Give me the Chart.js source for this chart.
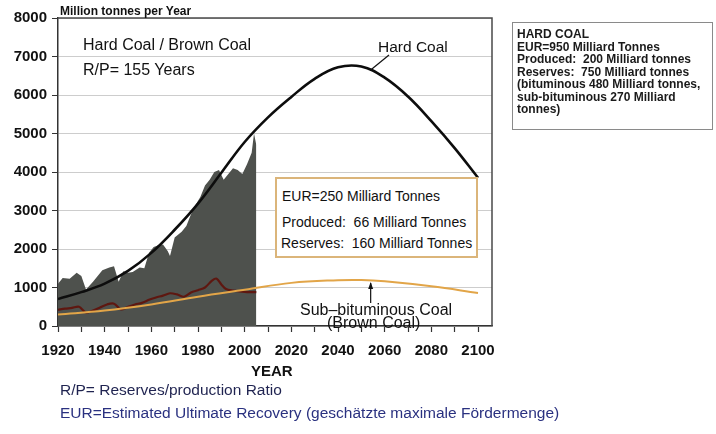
<!DOCTYPE html>
<html>
<head>
<meta charset="utf-8">
<script src="https://cdn.jsdelivr.net/npm/chart.js@4.4.1/dist/chart.umd.min.js"></script>
<style>
  body { margin: 0; background: #fff; }
  #wrap { position: relative; width: 716px; height: 434px; overflow: hidden; font-family: "Liberation Sans", Arial, sans-serif; color: #111; }
  #coal { position: absolute; left: 0; top: 0; }
  .t { position: absolute; white-space: nowrap; line-height: 1; }
  .box { position: absolute; box-sizing: border-box; }
</style>
</head>
<body>
<div id="wrap">
  <canvas id="coal" width="716" height="434"></canvas>

  <div class="t" style="left:60px;top:5px;font-size:12px;font-weight:bold;">Million tonnes per Year</div>
  <div class="t" style="left:83px;top:37px;font-size:16px;">Hard Coal / Brown Coal</div>
  <div class="t" style="left:83px;top:62px;font-size:16px;">R/P= 155 Years</div>
  <div class="t" style="left:378px;top:39px;font-size:15.5px;">Hard Coal</div>

  <div class="box" style="left:275px;top:177px;width:203px;height:81px;border:2px solid #dbb57a;background:#fff;"></div>
  <div class="t" style="left:282px;top:189px;font-size:14px;">EUR=250 Milliard Tonnes</div>
  <div class="t" style="left:282px;top:215px;font-size:14px;">Produced:&nbsp; 66 Milliard Tonnes</div>
  <div class="t" style="left:281px;top:236px;font-size:14px;">Reserves:&nbsp; 160 Milliard Tonnes</div>

  <div class="t" style="left:300px;top:302px;font-size:16px;">Sub&ndash;bituminous Coal</div>
  <div class="t" style="left:327px;top:315px;font-size:16px;">(Brown Coal)</div>

  <div class="box" style="left:512px;top:22px;width:201px;height:108px;border:1px solid #8a8a8a;"></div>
  <div class="t" style="left:517px;top:28px;font-size:12px;font-weight:bold;line-height:12.5px;color:#1a1a1a;">
    HARD COAL<br>EUR=950 Milliard Tonnes<br>Produced:&nbsp; 200 Milliard tonnes<br>Reserves:&nbsp; 750 Milliard tonnes<br>(bituminous 480 Milliard tonnes,<br>sub-bituminous 270 Milliard<br>tonnes)
  </div>

  <div class="t" style="left:251px;top:363px;font-size:15px;font-weight:bold;">YEAR</div>
  <div class="t" style="left:60px;top:382px;font-size:15.5px;color:#1f2350;">R/P= Reserves/production Ratio</div>
  <div class="t" style="left:60px;top:405px;font-size:15.5px;color:#2a3180;">EUR=Estimated Ultimate Recovery (geschätzte maximale Fördermenge)</div>
</div>

<script>
// ===== Data =====
const totalYears  = [1920, 1922, 1925, 1928, 1930, 1932, 1935, 1937, 1939, 1942, 1944, 1946, 1948, 1950, 1952, 1955, 1957, 1959, 1961, 1963, 1965, 1967, 1968, 1970, 1973, 1975, 1977, 1979, 1981, 1983, 1985, 1987, 1989, 1991, 1993, 1995, 1997, 1999, 2001, 2003, 2004, 2005];
const totalValues = [1100, 1250, 1230, 1380, 1300, 950, 1150, 1300, 1450, 1520, 1550, 1150, 1420, 1380, 1400, 1520, 1500, 1900, 2050, 2100, 2120, 1950, 1820, 2300, 2450, 2600, 2900, 3150, 3350, 3650, 3800, 4000, 4050, 3800, 3950, 4100, 4050, 3950, 4200, 4500, 5000, 4700];

const hardYears  = [1920, 1930, 1940, 1950, 1960, 1970, 1980, 1990, 2000, 2010, 2020, 2030, 2040, 2050, 2060, 2070, 2080, 2090, 2100];
const hardValues = [700, 880, 1100, 1430, 1900, 2500, 3180, 3980, 4780, 5420, 5950, 6420, 6720, 6740, 6450, 5960, 5320, 4620, 3850];

const brownYears  = [1920, 1923, 1926, 1929, 1932, 1935, 1938, 1941, 1944, 1947, 1950, 1953, 1956, 1959, 1962, 1965, 1968, 1971, 1974, 1977, 1980, 1983, 1986, 1988, 1990, 1992, 1995, 1998, 2001, 2005];
const brownValues = [420, 450, 470, 500, 350, 400, 480, 560, 580, 430, 500, 560, 600, 680, 740, 790, 850, 820, 760, 870, 930, 1000, 1180, 1230, 1080, 960, 920, 900, 880, 880];

const subYears  = [1920, 1940, 1960, 1980, 2000, 2020, 2040, 2050, 2060, 2080, 2100];
const subValues = [300, 400, 560, 760, 940, 1120, 1190, 1195, 1160, 1030, 860];

const yTicks = [0, 1000, 2000, 3000, 4000, 5000, 6000, 7000, 8000];
const xTickYears = [1920, 1930, 1940, 1950, 1960, 1970, 1980, 1990, 2000, 2010, 2020, 2030, 2040, 2050, 2060, 2070, 2080, 2090, 2100];
const xLabelYears = [1920, 1940, 1960, 1980, 2000, 2020, 2040, 2060, 2080, 2100];

const pts = (xs, ys) => xs.map((x, i) => ({ x, y: ys[i] }));

// ===== Frame + pointers =====
const extras = {
  id: 'extras',
  afterDatasetsDraw(chart) {
    const { ctx, chartArea: a, scales: { x, y } } = chart;
    ctx.save();
    ctx.strokeStyle = '#4a4a4a';
    ctx.lineWidth = 1.5;
    ctx.beginPath();
    ctx.moveTo(a.left, a.top);
    ctx.lineTo(a.right, a.top);
    ctx.lineTo(a.right, a.bottom);
    ctx.stroke();

    // Hard Coal label pointer
    ctx.strokeStyle = '#111';
    ctx.lineWidth = 1.2;
    ctx.beginPath();
    ctx.moveTo(389, 55);
    ctx.lineTo(x.getPixelForValue(2054), y.getPixelForValue(6650));
    ctx.stroke();

    // Sub-bituminous arrow
    const ax = x.getPixelForValue(2054), ay = y.getPixelForValue(1170);
    ctx.beginPath();
    ctx.moveTo(ax, 303);
    ctx.lineTo(ax, ay + 2);
    ctx.stroke();
    ctx.fillStyle = '#111';
    ctx.beginPath();
    ctx.moveTo(ax, ay + 1);
    ctx.lineTo(ax - 2.5, ay + 8);
    ctx.lineTo(ax + 2.5, ay + 8);
    ctx.closePath();
    ctx.fill();
    ctx.restore();
  }
};

new Chart(document.getElementById('coal'), {
  type: 'line',
  data: {
    datasets: [
      { label: 'Hard Coal', data: pts(hardYears, hardValues), borderColor: '#0d0d0d', borderWidth: 2.6, pointRadius: 0, tension: 0.4, fill: false, order: 0 },
      { label: 'Sub-bituminous Coal', data: pts(subYears, subValues), borderColor: '#e2a548', borderWidth: 2, pointRadius: 0, tension: 0.4, fill: false, order: 1 },
      { label: 'Brown Coal production', data: pts(brownYears, brownValues), borderColor: '#5e1710', borderWidth: 2.2, pointRadius: 0, tension: 0.3, fill: false, order: 2 },
      { label: 'Coal production', data: pts(totalYears, totalValues), borderWidth: 0, borderColor: 'rgba(0,0,0,0)', backgroundColor: '#4e514d', pointRadius: 0, tension: 0, fill: 'origin', order: 3 }
    ]
  },
  options: {
    responsive: false,
    animation: false,
    layout: { padding: { top: 18, right: 224, bottom: 0, left: 0 } },
    plugins: { legend: { display: false }, tooltip: { enabled: false } },
    scales: {
      x: {
        type: 'linear', min: 1920, max: 2106,
        afterBuildTicks: s => { s.ticks = xTickYears.map(v => ({ value: v })); },
        afterFit: s => { s.height = 108; },
        ticks: {
          autoSkip: false, maxRotation: 0, padding: 10,
          color: '#111', font: { family: 'Liberation Sans', size: 15, weight: 'bold' },
          callback: v => xLabelYears.includes(v) ? String(v) : ''
        },
        grid: { drawOnChartArea: false, drawTicks: true, tickLength: 6, tickColor: '#333', tickWidth: 1.2 },
        border: { display: true, color: '#333', width: 1.5 }
      },
      y: {
        min: 0, max: 8000,
        afterBuildTicks: s => { s.ticks = yTicks.map(v => ({ value: v })); },
        afterFit: s => { s.width = 58; },
        ticks: { padding: 5, color: '#111', font: { family: 'Liberation Sans', size: 15, weight: 'bold' }, callback: v => String(v) },
        grid: { color: '#cdcdcd', lineWidth: 1, tickLength: 6, tickColor: '#333' },
        border: { display: true, color: '#333', width: 1.5 }
      }
    }
  },
  plugins: [extras]
});
</script>
</body>
</html>
